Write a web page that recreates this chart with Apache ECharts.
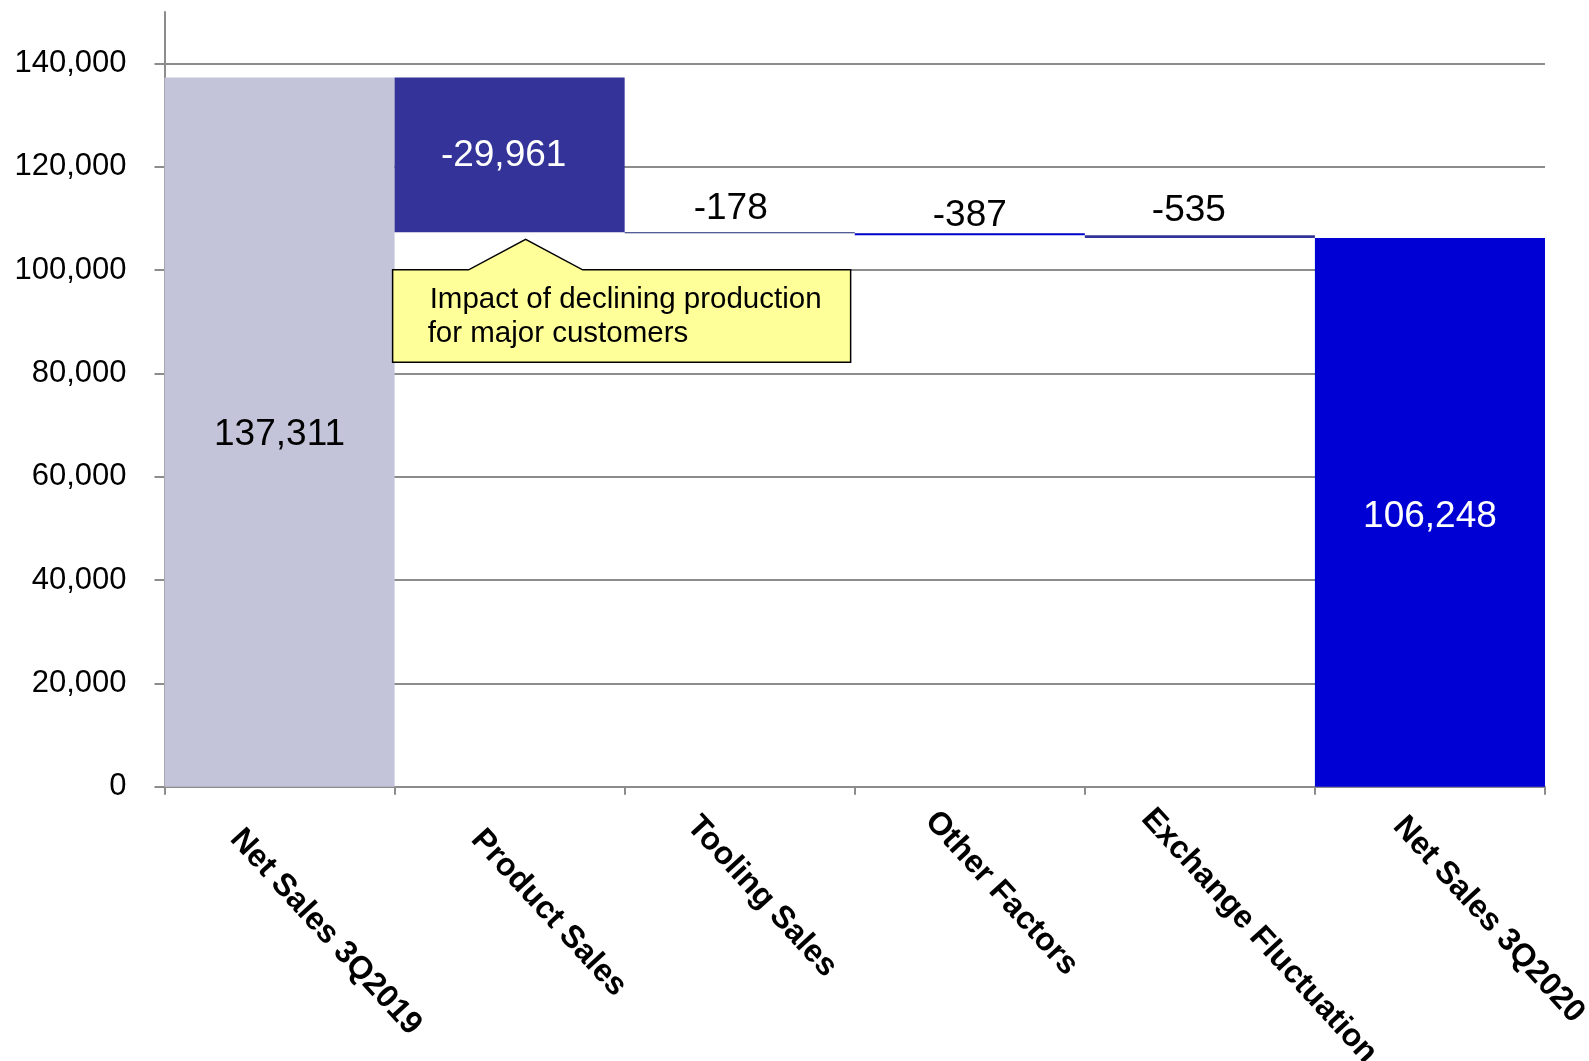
<!DOCTYPE html>
<html>
<head>
<meta charset="utf-8">
<script src="https://cdn.jsdelivr.net/npm/echarts@6/dist/echarts.min.js"></script>
<style>
  html, body { margin: 0; padding: 0; background: #ffffff; }
  #chart { width: 1589px; height: 1061px; }
</style>
</head>
<body>
<div id="chart"></div>
<script>
// Net sales bridge: 3Q2019 -> 3Q2020
const categories = ['Net Sales 3Q2019', 'Product Sales', 'Tooling Sales', 'Other Factors', 'Exchange Fluctuation', 'Net Sales 3Q2020'];
const startTotal = 137311;
const changes = [-29961, -178, -387, -535];
const endTotal = 106248;
const barColors = ['#C3C3DA', '#333399', '#1C2870', '#0000CC', '#333399', '#0000D4'];
const calloutText = ['Impact of declining production', 'for major customers'];

const FONT = '"Liberation Sans", Arial, sans-serif';
const fmt = v => v.toLocaleString('en-US');

// Build invisible bases and visible segments for the waterfall
const baseData = [0];
const barData = [startTotal];
const signedValues = [startTotal];
let running = startTotal;
changes.forEach(c => {
  const next = running + c;
  baseData.push(Math.min(running, next));
  barData.push(Math.abs(c));
  signedValues.push(c);
  running = next;
});
baseData.push(0);
barData.push(endTotal);
signedValues.push(endTotal);

const insideWhite = [false, true, false, false, false, true];
const labelDistance = [5, 5, 9, 2, 11, 5];
const labelShift = [[0, 3], [-6, 1], [-9, 4], [0, 3], [-11, 5], [0, 4]];

const segmentItems = barData.map((v, i) => {
  const isTotal = i === 0 || i === barData.length - 1;
  const inside = isTotal || i === 1;
  return {
    value: v,
    itemStyle: { color: barColors[i] },
    label: {
      show: true,
      position: inside ? 'inside' : 'top',
      distance: labelDistance[i],
      offset: labelShift[i],
      color: insideWhite[i] ? '#ffffff' : '#000000',
      formatter: () => fmt(signedValues[i])
    }
  };
});

// Slanted category labels: per-label nudges along / across the text direction
const alongShift = [0.7, 8.5, -11.3, -9.2, -20.5, 0];
const acrossShift = [-6.4, -14.1, -12.7, -21.9, -13.4, -24];
const baseShift = 21;
const rich = {};
categories.forEach((c, i) => {
  rich['c' + i] = {
    fontFamily: '"Liberation Sans", Arial, sans-serif',
    fontWeight: 'bold',
    fontSize: 32,
    color: '#000000',
    verticalAlign: 'top',
    padding: [49 + acrossShift[i] + baseShift, 0, 0, alongShift[i] + baseShift]
  };
});

const chart = echarts.init(document.getElementById('chart'));
const axisGray = '#8c8c8c';

chart.setOption({
  animation: false,
  backgroundColor: '#ffffff',
  grid: { left: 164.5, right: 44, top: 12, bottom: 274.3, containLabel: false, outerBoundsMode: 'none' },
  xAxis: {
    type: 'category',
    data: categories,
    boundaryGap: true,
    axisLine: { show: true, lineStyle: { color: axisGray, width: 2 } },
    axisTick: { show: true, length: 8, alignWithLabel: false, lineStyle: { color: axisGray, width: 2 } },
    axisLabel: {
      interval: 0,
      rotate: -47.5,
      align: 'left',
      verticalAlign: 'top',
      margin: 7 - baseShift * Math.SQRT2,
      hideOverlap: false,
      fontFamily: FONT,
      fontWeight: 'bold',
      fontSize: 32,
      color: '#000000',
      formatter: (value, index) => '{c' + index + '|' + value + '}',
      rich: rich
    },
    splitLine: { show: false }
  },
  yAxis: {
    type: 'value',
    min: 0,
    max: 150000,
    interval: 20000,
    axisLine: { show: true, lineStyle: { color: axisGray, width: 2 } },
    axisTick: { show: true, length: 10, lineStyle: { color: axisGray, width: 2 } },
    axisLabel: {
      showMaxLabel: false,
      margin: 38,
      fontFamily: FONT,
      fontSize: 31,
      color: '#000000',
      formatter: v => fmt(v)
    },
    splitLine: { show: true, showMaxLine: false, showMinLine: false, lineStyle: { color: axisGray, width: 2 } }
  },
  series: [
    {
      name: 'base',
      type: 'bar',
      stack: 'bridge',
      barCategoryGap: '0%',
      itemStyle: { color: 'transparent' },
      emphasis: { disabled: true },
      data: baseData
    },
    {
      name: 'change',
      type: 'bar',
      stack: 'bridge',
      barCategoryGap: '0%',
      label: { fontFamily: FONT, fontSize: 37 },
      emphasis: { disabled: true },
      data: segmentItems
    }
  ]
});

// Callout pointing at the bottom of the Product Sales segment
function drawCallout() {
  const anchor = chart.convertToPixel({ gridIndex: 0 }, [categories[1], startTotal + changes[0]]);
  const ax = anchor[0] + 16;
  const ay = anchor[1] + 7;
  const left = ax - 133, right = ax + 325;
  const top = ay + 30.6, bottom = ay + 123;
  chart.setOption({
    graphic: [
      {
        type: 'polygon',
        z: 100,
        shape: {
          points: [
            [left, top], [ax - 57, top], [ax, ay], [ax + 57, top],
            [right, top], [right, bottom], [left, bottom]
          ]
        },
        style: { fill: '#FFFF99', stroke: '#000000', lineWidth: 1.5 }
      },
      {
        type: 'text',
        z: 101,
        x: left + 37,
        y: top + 29.5,
        style: {
          text: calloutText[0],
          font: '29.5px ' + FONT,
          fill: '#000000',
          align: 'left',
          verticalAlign: 'middle'
        }
      },
      {
        type: 'text',
        z: 101,
        x: left + 35,
        y: top + 64,
        style: {
          text: calloutText[1],
          font: '29.5px ' + FONT,
          fill: '#000000',
          align: 'left',
          verticalAlign: 'middle'
        }
      }
    ]
  });
}
drawCallout();
</script>
</body>
</html>
